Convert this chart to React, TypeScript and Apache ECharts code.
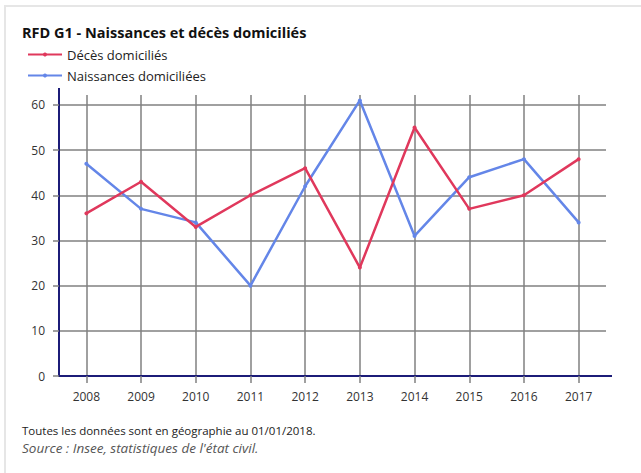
import React, { useEffect, useRef } from "react";
import * as echarts from "echarts";

const years = ["2008", "2009", "2010", "2011", "2012", "2013", "2014", "2015", "2016", "2017"];
const deces = [36, 43, 33, 40, 46, 24, 55, 37, 40, 48];
const naissances = [47, 37, 34, 20, 42, 61, 31, 44, 48, 34];
const seriesNames = ["Décès domiciliés", "Naissances domiciliées"];
const title = "RFD G1 - Naissances et décès domiciliés";
const note = "Toutes les données sont en géographie au 01/01/2018.";
const source = "Source : Insee, statistiques de l'état civil.";

const FONT = "'Open Sans', 'Noto Sans', sans-serif";
const RED = "#e0385c";
const BLUE = "#6486e8";
const AXIS = "#1c1c78";
const GRID = "#808080";

export default function App() {
  const ref = useRef<HTMLDivElement>(null);
  useEffect(() => {
    if (!ref.current) return;
    const chart = echarts.init(ref.current, null, { renderer: "svg" });
    chart.setOption({
      animation: false,
      textStyle: { fontFamily: FONT },
      legend: {
        orient: "vertical",
        left: 22,
        top: 43,
        itemWidth: 34,
        itemHeight: 5,
        itemGap: 8,
        data: seriesNames,
        textStyle: { fontFamily: FONT, fontSize: 13, color: "#222" },
      },
      grid: { left: 59, width: 547, top: 95, bottom: 97 },
      xAxis: {
        type: "category",
        data: years,
        boundaryGap: true,
        axisLine: { show: true, lineStyle: { color: AXIS, width: 2 } },
        axisTick: { show: true, alignWithLabel: true, length: 7, lineStyle: { color: GRID, width: 1.5 } },
        splitLine: { show: true, alignWithLabel: true, lineStyle: { color: GRID, width: 1.5 } } as any,
        axisLabel: { margin: 14, fontFamily: FONT, fontSize: 12, color: "#333" },
      },
      yAxis: {
        type: "value",
        min: 0,
        max: 62.2,
        interval: 10,
        axisLine: { show: true, lineStyle: { color: AXIS, width: 2 } },
        axisTick: { show: true, length: 6, lineStyle: { color: GRID, width: 1.5 } },
        splitLine: { show: true, showMaxLine: false, lineStyle: { color: GRID, width: 1.5 } } as any,
        axisLabel: { margin: 14, fontFamily: FONT, fontSize: 12, color: "#333", showMaxLabel: false },
      },
      series: [
        {
          name: seriesNames[0],
          type: "line",
          data: deces,
          symbol: "circle",
          symbolSize: 4,
          itemStyle: { color: RED },
          lineStyle: { color: RED, width: 2.5 },
          z: 3,
        },
        {
          name: seriesNames[1],
          type: "line",
          data: naissances,
          symbol: "circle",
          symbolSize: 4,
          itemStyle: { color: BLUE },
          lineStyle: { color: BLUE, width: 2.5 },
          z: 2,
        },
      ],
      graphic: [
        { type: "line", shape: { x1: 5, y1: 6, x2: 5, y2: 473 }, style: { stroke: "#e6e6e6", lineWidth: 2 } },
        { type: "line", shape: { x1: 4, y1: 6, x2: 641, y2: 6 }, style: { stroke: "#e6e6e6", lineWidth: 2 } },
        { type: "line", shape: { x1: 59, y1: 88, x2: 59, y2: 96 }, style: { stroke: AXIS, lineWidth: 2 } },
        { type: "line", shape: { x1: 605, y1: 376, x2: 612, y2: 376 }, style: { stroke: AXIS, lineWidth: 2 } },
        {
          type: "text",
          left: 22,
          top: 25,
          style: { text: title, fontFamily: FONT, fontSize: 14.5, fontWeight: "bold", fill: "#111" },
        },
        {
          type: "text",
          left: 22,
          top: 424,
          style: { text: note, fontFamily: FONT, fontSize: 11.5, fill: "#222" },
        },
        {
          type: "text",
          left: 22,
          top: 441,
          style: { text: source, fontFamily: FONT, fontSize: 13.5, fontStyle: "italic", fill: "#555" },
        },
      ],
    });
    return () => chart.dispose();
  }, []);
  return (
    <div
      ref={ref}
      style={{ position: "absolute", left: 0, top: 0, width: 641, height: 473, background: "#fff" }}
    />
  );
}
